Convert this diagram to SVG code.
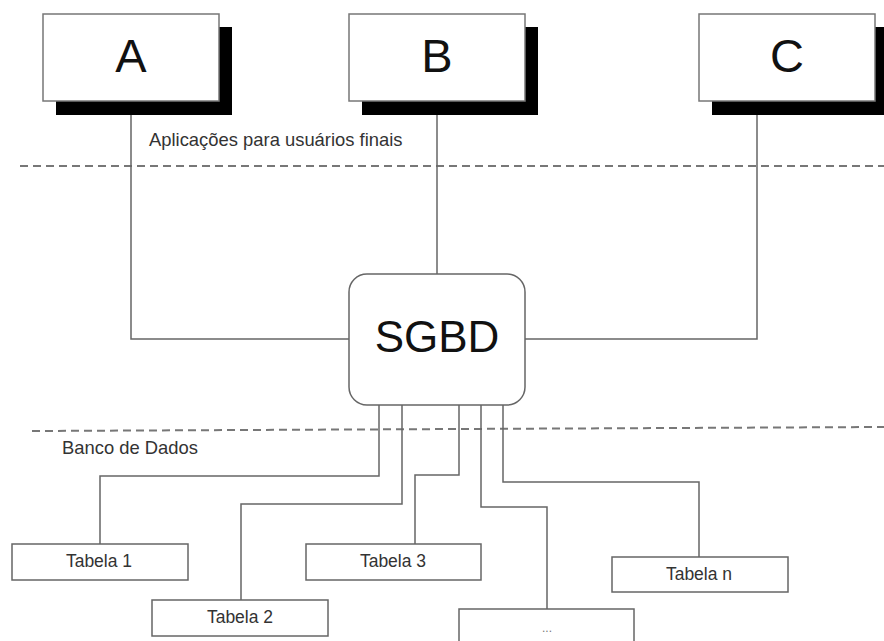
<svg xmlns="http://www.w3.org/2000/svg" width="884" height="641" viewBox="0 0 884 641">
<style>
.shadow{fill:#000}
.app{fill:#fff;stroke:#777;stroke-width:1.5}
.tbl{fill:#fff;stroke:#666;stroke-width:1.5}
.big{font-family:"Liberation Sans",Arial,sans-serif;font-size:47px;fill:#111;text-anchor:middle}
.lbl{font-family:"Liberation Sans",Arial,sans-serif;font-size:17.5px;fill:#333;text-anchor:middle}
.note{font-family:"Liberation Sans",Arial,sans-serif;font-size:18.4px;fill:#333}
.conn{fill:none;stroke:#666;stroke-width:1.5}
.dash{fill:none;stroke:#777;stroke-width:2;stroke-dasharray:8 5}
</style>
<rect width="884" height="641" fill="#fff"/>
<g id="separators">
<line class="dash" x1="20" y1="166" x2="884" y2="166"/>
<line class="dash" x1="32" y1="431" x2="884" y2="427"/>
</g>
<text class="note" x="149" y="146">Aplicações para usuários finais</text>
<text class="note" x="62" y="454">Banco de Dados</text>
<g id="connectors">
<polyline class="conn" points="131,115 131,339 349,339"/>
<line class="conn" x1="437" y1="115" x2="437" y2="274"/>
<polyline class="conn" points="757,115 757,339 525,339"/>
<polyline class="conn" points="379,405 379,476 100,476 100,544"/>
<polyline class="conn" points="402,405 402,504 241,504 241,600"/>
<polyline class="conn" points="459,405 459,475 415,475 415,544"/>
<polyline class="conn" points="481,405 481,507 547,507 547,609"/>
<polyline class="conn" points="503,405 503,482 699,482 699,557"/>
</g>
<g id="A">
<rect class="shadow" x="56" y="27" width="176" height="88"/>
<rect class="app" x="43" y="14" width="176" height="87"/>
<text class="big" x="131" y="72">A</text>
</g>
<g id="B">
<rect class="shadow" x="362" y="27" width="176" height="88"/>
<rect class="app" x="349" y="14" width="176" height="87"/>
<text class="big" x="437" y="72">B</text>
</g>
<g id="C">
<rect class="shadow" x="712" y="27" width="176" height="88"/>
<rect class="app" x="699" y="14" width="176" height="87"/>
<text class="big" x="787" y="72">C</text>
</g>
<g id="SGBD">
<rect x="349" y="274" width="176" height="131" rx="18" fill="#fff" stroke="#666" stroke-width="1.5"/>
<text class="big" x="437" y="352" style="font-size:44px">SGBD</text>
</g>
<g id="tabela1">
<rect class="tbl" x="12" y="544" width="176" height="36"/>
<text class="lbl" x="99" y="567">Tabela 1</text>
</g>
<g id="tabela2">
<rect class="tbl" x="152" y="600" width="176" height="36"/>
<text class="lbl" x="240" y="623">Tabela 2</text>
</g>
<g id="tabela3">
<rect class="tbl" x="306" y="544" width="175" height="36"/>
<text class="lbl" x="393" y="567">Tabela 3</text>
</g>
<g id="tabelaDots">
<rect class="tbl" x="459" y="609" width="175" height="40"/>
<text class="lbl" x="547" y="632" style="font-size:12px;fill:#777">...</text>
</g>
<g id="tabelaN">
<rect class="tbl" x="612" y="557" width="176" height="35"/>
<text class="lbl" x="699" y="580">Tabela n</text>
</g>
</svg>
